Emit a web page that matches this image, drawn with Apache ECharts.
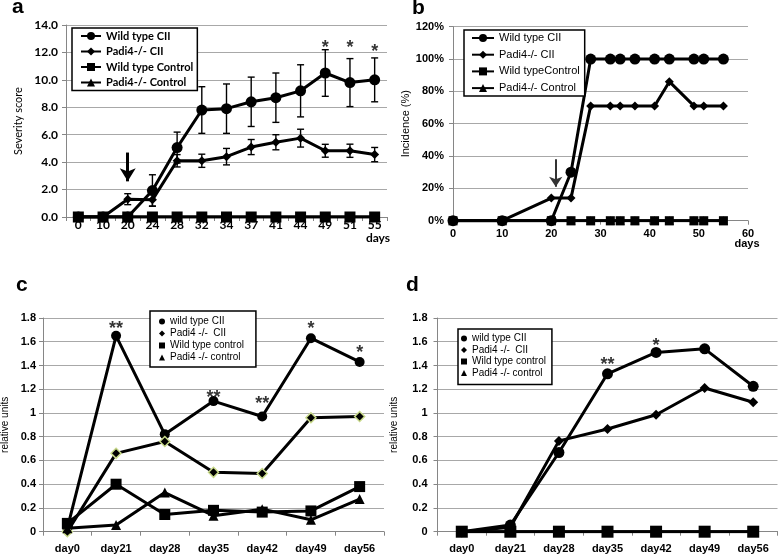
<!DOCTYPE html>
<html><head><meta charset="utf-8">
<script src="https://cdn.jsdelivr.net/npm/echarts@6/dist/echarts.min.js"></script>
<style>html,body{margin:0;padding:0;background:#fff}#c{width:778px;height:556px}</style>
</head><body><div id="c"></div>
<script>
// ---- Panel a: severity score ----
const daysA = ['0','10','20','24','28','32','34','37','41','44','49','51','55'];
const aWtCII     = [0,0,0,1.93,5.06,7.8,7.9,8.4,8.7,9.2,10.5,9.8,10.0];
const aWtCIIerr  = [0,0,0,1.15,1.13,1.7,1.8,1.8,1.8,1.9,1.7,1.75,1.6];
const aPadCII    = [0,0,1.3,1.25,4.1,4.1,4.4,5.1,5.45,5.75,4.83,4.83,4.55];
const aPadCIIerr = [0,0,0.4,0.45,0.45,0.48,0.6,0.55,0.55,0.65,0.47,0.48,0.52];
const aWtCtl     = [0,0,0,0,0,0,0,0,0,0,0,0,0];
const aPadCtl    = [0,0,0,0,0,0,0,0,0,0,0,0,0];
const aStars = [['49',12.6,'*'],['51',12.6,'*'],['55',12.3,'*']];
const aArrow = [['20',4.7],['20',2.6]];
const aNames = ['Wild type CII','Padi4-/- CII','Wild type Control','Padi4-/- Control'];

// ---- Panel b: incidence ----
const daysB = [0,10,20,24,28,32,34,37,41,44,49,51,55];
const bWtCII  = [0,0,0,30,100,100,100,100,100,100,100,100,100];
const bPadCII = [0,0,14,14,71,71,71,71,71,86,71,71,71];
const bWtCtl  = [0,0,0,0,0,0,0,0,0,0,0,0,0];
const bPadCtl = [0,0,0,0,0,0,0,0,0,0,0,0,0];
const bArrow = [[20.9,38],[20.9,21]];
const bNames = ['Wild type CII','Padi4-/- CII','Wild typeControl','Padi4-/- Control'];

// ---- Panels c & d: relative units ----
const daysCD = ['day0','day21','day28','day35','day42','day49','day56'];
const cWtCII  = [0.03,1.65,0.82,1.10,0.97,1.63,1.43];
const cPadCII = [0.0,0.66,0.76,0.50,0.49,0.96,0.97];
const cWtCtl  = [0.07,0.40,0.145,0.18,0.165,0.175,0.38];
const cPadCtl = [0.03,0.056,0.33,0.135,0.19,0.10,0.275];
const cStars = [['day21',1.74,'**'],['day35',1.16,'**'],['day42',1.11,'**'],['day49',1.74,'*'],['day56',1.54,'*']];
const dWtCII  = [0,0.056,0.667,1.33,1.51,1.54,1.225];
const dPadCII = [0,0.037,0.765,0.865,0.985,1.21,1.09];
const dWtCtl  = [0,0,0,0,0,0,0];
const dPadCtl = [0,0,0,0,0,0,0];
const dStars = [['day35',1.44,'**'],['day42',1.60,'*']];
const cdNames = ['wild type CII','Padi4 -/-  CII','Wild type control','Padi4 -/- control'];

const AX = '#868686', GRID = '#a8a8a8', BLK = '#000';
const LAT = 'Lato', ARI = 'Liberation Sans';

function errRender(params, api){
  const x = api.value(0), lo = api.value(1), hi = api.value(2);
  const p1 = api.coord([x, lo]), p2 = api.coord([x, hi]);
  const w = 3.5, st = {stroke:BLK, lineWidth:1.4};
  return {type:'group', children:[
    {type:'line', shape:{x1:p1[0],y1:p1[1],x2:p2[0],y2:p2[1]}, style:st},
    {type:'line', shape:{x1:p1[0]-w,y1:p1[1],x2:p1[0]+w,y2:p1[1]}, style:st},
    {type:'line', shape:{x1:p2[0]-w,y1:p2[1],x2:p2[0]+w,y2:p2[1]}, style:st}
  ]};
}
function errData(vals, errs){
  const out = [];
  vals.forEach((v,i)=>{ if (errs[i] > 0) out.push([i, v-errs[i], v+errs[i]]); });
  return out;
}
function lineS(name, gi, data, symbol, size, extra){
  return Object.assign({
    type:'line', name, xAxisIndex:gi, yAxisIndex:gi, data,
    symbol, symbolSize:size, showSymbol:true, showAllSymbol:true,
    lineStyle:{color:BLK, width:3}, itemStyle:{color:BLK},
    emphasis:{disabled:true}, silent:true, animation:false
  }, extra || {});
}
function starS(gi, stars, fs, dy){
  return {type:'scatter', name:'_stars'+gi, xAxisIndex:gi, yAxisIndex:gi, silent:true,
    symbol:'circle', symbolSize:1, itemStyle:{color:'rgba(0,0,0,0)'}, z:10,
    data: stars.map(s=>({value:[s[0], s[1]], label:{formatter:s[2]}})),
    label:{show:true, position:'inside', fontSize:fs, fontWeight:'bold', color:BLK, fontFamily:ARI, offset:[0,dy]}};
}
function catX(gi, data, font, fs, fw, margin){
  return {type:'category', gridIndex:gi, data, boundaryGap:true,
    axisLine:{show:true, lineStyle:{color:AX, width:1}},
    axisTick:{show:true, length:4, lineStyle:{color:AX}},
    axisLabel:{interval:0, color:BLK, fontFamily:font, fontSize:fs, fontWeight:fw, margin}};
}
function valY(gi, min, max, itv, fmt, font, fs, fw, margin, name, nameGap, nfs){
  return {type:'value', gridIndex:gi, min, max, interval:itv,
    axisLine:{show:true, lineStyle:{color:AX, width:1}},
    axisTick:{show:true, length:4, lineStyle:{color:AX}},
    splitLine:{show:true, lineStyle:{color:GRID, width:1}},
    axisLabel:{formatter:fmt, color:BLK, fontFamily:font, fontSize:fs, fontWeight:fw, margin},
    name, nameLocation:'middle', nameGap, nameRotate:90,
    nameTextStyle:{color:BLK, fontFamily:font, fontSize:nfs}};
}

const chart = echarts.init(document.getElementById('c'), null, {renderer:'canvas'});
const option = {
  animation:false,
  backgroundColor:'#fff',
  grid:[
    {left:66, top:25, width:321, height:192, outerBoundsMode:'none'},
    {left:453, top:26.7, width:295, height:194, outerBoundsMode:'none'},
    {left:43, top:318, width:341, height:213.7, outerBoundsMode:'none'},
    {left:437.5, top:318, width:340, height:213.7, outerBoundsMode:'none'}
  ],
  xAxis:[
    catX(0, daysA, LAT, 12, 'bold', 2),
    {type:'value', gridIndex:1, min:0, max:60, interval:10,
      axisLine:{show:true, lineStyle:{color:AX}}, axisTick:{show:true, length:4, lineStyle:{color:AX}},
      splitLine:{show:false},
      axisLabel:{color:BLK, fontFamily:ARI, fontSize:11, fontWeight:'bold', margin:8}},
    catX(2, daysCD, ARI, 11, 'bold', 12),
    catX(3, daysCD, ARI, 11, 'bold', 12)
  ],
  yAxis:[
    valY(0, 0, 14, 2, v=>v.toFixed(1), LAT, 12, 'bold', 8, 'Severity score', 42, 11),
    valY(1, 0, 120, 20, '{value}%', ARI, 11, 'bold', 9, 'Incidence (%)', 34, 11),
    valY(2, 0, 1.8, 0.2, v=>String(+v.toFixed(1)), ARI, 11, 'bold', 7, 'relative units', 33, 10),
    valY(3, 0, 1.8, 0.2, v=>String(+v.toFixed(1)), ARI, 11, 'bold', 10, 'relative units', 38, 10)
  ],
  legend:[
    {orient:'vertical', left:72, top:28, data:aNames, selectedMode:false,
      itemWidth:20, itemHeight:10, itemGap:3.5, padding:[2,4,2,8],
      borderColor:BLK, borderWidth:1.5, backgroundColor:'#fff',
      textStyle:{fontFamily:LAT, fontSize:11, fontWeight:'bold', color:BLK, lineHeight:12}},
    {orient:'vertical', left:464, top:30, data:bNames, selectedMode:false,
      itemWidth:22, itemHeight:10, itemGap:4.7, padding:[2,5,2,7],
      borderColor:BLK, borderWidth:1.5, backgroundColor:'#fff',
      textStyle:{fontFamily:ARI, fontSize:11, color:BLK, lineHeight:12}},
    {orient:'vertical', left:150, top:311, selectedMode:false,
      data:[{name:cdNames[0],icon:'circle'},{name:cdNames[1],icon:'diamond'},{name:cdNames[2],icon:'rect'},{name:cdNames[3],icon:'triangle'}],
      itemWidth:6, itemHeight:6, itemGap:1, padding:[5,12,4,9],
      borderColor:BLK, borderWidth:1.5, backgroundColor:'#fff',
      itemStyle:{color:BLK, borderWidth:0},
      textStyle:{fontFamily:ARI, fontSize:10, color:BLK, lineHeight:11}},
    {orient:'vertical', left:458, top:329, selectedMode:false,
      data:[{name:cdNames[0],icon:'circle'},{name:cdNames[1],icon:'diamond'},{name:cdNames[2],icon:'rect'},{name:cdNames[3],icon:'triangle'}],
      itemWidth:6, itemHeight:6, itemGap:0.5, padding:[4,6,6,3],
      borderColor:BLK, borderWidth:1.5, backgroundColor:'#fff',
      itemStyle:{color:BLK, borderWidth:0},
      textStyle:{fontFamily:ARI, fontSize:10, color:BLK, lineHeight:11}}
  ],
  graphic:[
    {type:'text', x:12, y:7, style:{text:'a', fontFamily:ARI, fontSize:21, fontWeight:'bold', fill:BLK, textVerticalAlign:'middle'}},
    {type:'text', x:412, y:8, style:{text:'b', fontFamily:ARI, fontSize:21, fontWeight:'bold', fill:BLK, textVerticalAlign:'middle'}},
    {type:'text', x:16, y:285, style:{text:'c', fontFamily:ARI, fontSize:21, fontWeight:'bold', fill:BLK, textVerticalAlign:'middle'}},
    {type:'text', x:406, y:285, style:{text:'d', fontFamily:ARI, fontSize:21, fontWeight:'bold', fill:BLK, textVerticalAlign:'middle'}},
    {type:'text', x:378, y:238, style:{text:'days', fontFamily:LAT, fontSize:12, fontWeight:'bold', fill:BLK, textAlign:'center', textVerticalAlign:'middle'}},
    {type:'text', x:747, y:244, style:{text:'days', fontFamily:ARI, fontSize:11, fontWeight:'bold', fill:BLK, textAlign:'center', textVerticalAlign:'middle'}}
  ],
  series:[
    // panel a
    {type:'custom', name:'_errA1', xAxisIndex:0, yAxisIndex:0, renderItem:errRender, data:errData(aWtCII,aWtCIIerr), encode:{x:0,y:[1,2]}, silent:true, z:1},
    {type:'custom', name:'_errA2', xAxisIndex:0, yAxisIndex:0, renderItem:errRender, data:errData(aPadCII,aPadCIIerr), encode:{x:0,y:[1,2]}, silent:true, z:1},
    lineS(aNames[0], 0, aWtCII, 'circle', 11, {markLine:{silent:true, symbol:['none','arrow'], symbolSize:[12,13],
      lineStyle:{color:BLK, width:3, type:'solid'}, label:{show:false}, animation:false,
      data:[[{coord:aArrow[0]},{coord:aArrow[1]}]]}}),
    lineS(aNames[1], 0, aPadCII, 'diamond', 9),
    lineS(aNames[3], 0, aPadCtl, 'triangle', 10),
    lineS(aNames[2], 0, aWtCtl, 'rect', 11),
    starS(0, aStars, 18, 4),
    // panel b
    lineS(bNames[3], 1, daysB.map((d,i)=>[d,bPadCtl[i]]), 'triangle', 9),
    lineS(bNames[2], 1, daysB.map((d,i)=>[d,bWtCtl[i]]), 'rect', 9),
    lineS('Padi4-/- CII ', 1, daysB.map((d,i)=>[d,bPadCII[i]]), 'diamond', 9, {markLine:{silent:true, symbol:['none','arrow'], symbolSize:[10,10],
      lineStyle:{color:'#333', width:2, type:'solid'}, label:{show:false}, animation:false,
      data:[[{coord:bArrow[0]},{coord:bArrow[1]}]]}}),
    lineS('Wild type CII ', 1, daysB.map((d,i)=>[d,bWtCII[i]]), 'circle', 11),
    // panel c
    lineS(cdNames[0], 2, cWtCII, 'circle', 10),
    lineS(cdNames[1], 2, cPadCII, 'diamond', 10, {itemStyle:{color:BLK, borderColor:'#c8d98a', borderWidth:1.5}}),
    lineS(cdNames[2], 2, cWtCtl, 'rect', 11),
    lineS(cdNames[3], 2, cPadCtl, 'triangle', 10),
    starS(2, cStars, 18, 4),
    // panel d
    lineS('wild type CII ', 3, dWtCII, 'circle', 11),
    lineS('Padi4 -/-  CII ', 3, dPadCII, 'diamond', 10),
    lineS('Padi4 -/- control ', 3, dPadCtl, 'triangle', 10),
    lineS('Wild type control ', 3, dWtCtl, 'rect', 12),
    starS(3, dStars, 18, 4)
  ]
};
chart.setOption(option);
</script>
</body></html>
